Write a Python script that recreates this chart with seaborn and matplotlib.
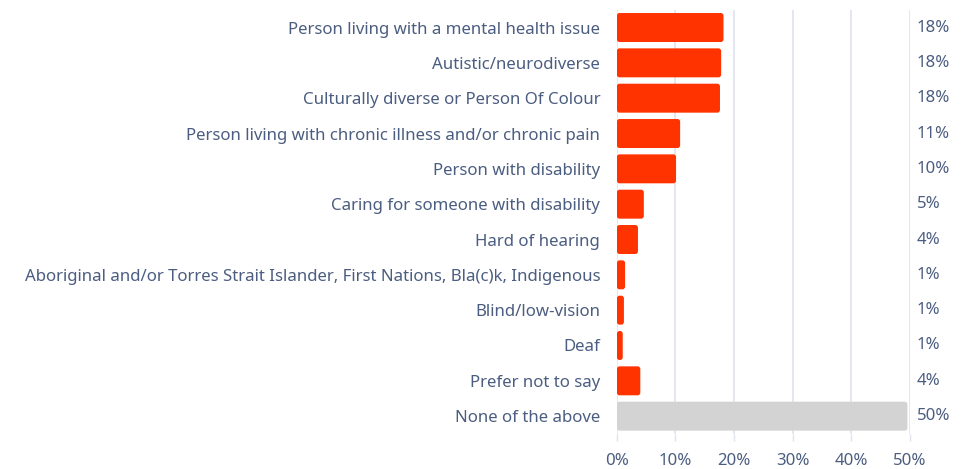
import matplotlib
matplotlib.use("Agg")
import matplotlib.pyplot as plt
from matplotlib.patches import FancyBboxPatch
import seaborn as sns
import pandas as pd

categories = [
    "Person living with a mental health issue",
    "Autistic/neurodiverse",
    "Culturally diverse or Person Of Colour",
    "Person living with chronic illness and/or chronic pain",
    "Person with disability",
    "Caring for someone with disability",
    "Hard of hearing",
    "Aboriginal and/or Torres Strait Islander, First Nations, Bla(c)k, Indigenous",
    "Blind/low-vision",
    "Deaf",
    "Prefer not to say",
    "None of the above",
]
percentages = [18.2, 17.8, 17.6, 10.8, 10.1, 4.6, 3.6, 1.4, 1.2, 1.0, 4.0, 49.6]
groups = ["identified"] * 11 + ["none"]
x_ticks = [0, 10, 20, 30, 40, 50]

df = pd.DataFrame({"category": categories, "pct": percentages, "group": groups})

sns.set_theme(style="white")
plt.rcParams["font.family"] = ["Noto Sans", "DejaVu Sans"]

text_color = "#4b5d80"
grid_color = "#dfe3ec"
fs = 12.1

fig = plt.figure(figsize=(9.73, 4.69), dpi=100)
ax = fig.add_axes([0.634, 0.075, 0.301, 0.904])

sns.barplot(
    data=df, x="pct", y="category", hue="group",
    palette={"identified": "#ff3300", "none": "#d3d3d3"},
    order=categories, dodge=False, width=0.82, legend=False,
    saturation=1, ax=ax, zorder=3,
)

ax.set_xlim(0, 50)
ax.set_ylim(len(categories) - 0.5, -0.5)

# swap the square bars for ones with slightly rounded corners
for bar in list(ax.patches):
    w, h = bar.get_width(), bar.get_height()
    if w <= 0:
        bar.remove()
        continue
    rounded = FancyBboxPatch(
        (bar.get_x(), bar.get_y()), w, h,
        boxstyle=f"round,pad=0,rounding_size={min(0.45, w / 2)}",
        mutation_aspect=0.17,
        facecolor=bar.get_facecolor(), edgecolor="none", zorder=3,
    )
    bar.remove()
    ax.add_patch(rounded)

ax.set_xticks(x_ticks)
ax.set_xticklabels([f"{t}%" for t in x_ticks])
ax.xaxis.grid(True, color=grid_color, linewidth=1.2, zorder=0)
ax.yaxis.grid(False)
for side in ["top", "right", "left", "bottom"]:
    ax.spines[side].set_visible(False)

ax.tick_params(axis="x", which="both", bottom=True, length=5, width=1.0,
               color=grid_color, labelsize=fs, labelcolor=text_color, pad=9)
ax.tick_params(axis="y", which="both", left=False, length=0, labelsize=fs,
               labelcolor=text_color, pad=12)
ax.set_xlabel("")
ax.set_ylabel("")

# value labels in a column right of the plot area
for i, v in enumerate(percentages):
    ax.annotate(f"{v:.0f}%", xy=(1.0, i), xycoords=("axes fraction", "data"),
                xytext=(5, 0), textcoords="offset points",
                ha="left", va="center", fontsize=fs, color=text_color)

fig.savefig("out.png", dpi=100, facecolor="white")
